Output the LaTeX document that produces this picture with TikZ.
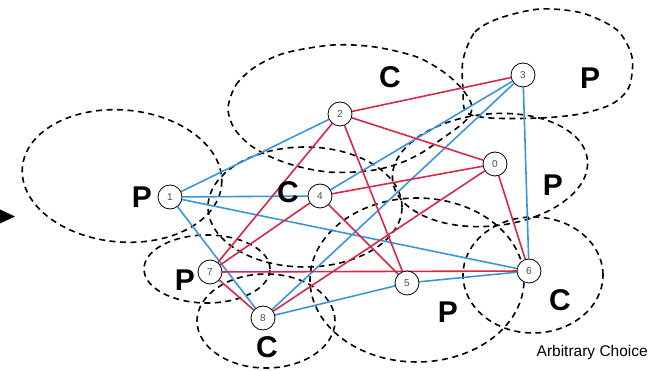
\documentclass[tikz,border=0pt]{standalone}
\usepackage{fontspec}
\setmainfont{Liberation Sans}
\definecolor{lineblue}{RGB}{58,150,220}
\definecolor{linered}{RGB}{214,40,72}
\pgfdeclarelayer{regions}
\pgfdeclarelayer{edges}
\pgfsetlayers{regions,edges,main}
\begin{document}
\begin{tikzpicture}[x=1pt,y=-1pt,
  nd/.style={circle,draw=black,line width=0.8pt,fill=white,minimum size=24pt,inner sep=0pt,font=\fontsize{10}{10}\selectfont\color{black!70}},
  bl/.style={draw=lineblue,line width=1.6pt},
  rd/.style={draw=linered,line width=1.6pt},
  region/.style={draw=black,line width=1.6pt,dash pattern=on 6pt off 4.5pt},
  lab/.style={font=\fontsize{30}{30}\selectfont\bfseries,inner sep=0pt},
  captxt/.style={font=\fontsize{15.5}{16}\selectfont,inner sep=0pt}]
\useasboundingbox (0,0) rectangle (651,371);
% nodes
\node[nd] (n1) at (170,197) {1};
\node[nd] (n2) at (340,114) {2};
\node[nd] (n3) at (523,75) {3};
\node[nd] (n0) at (495,164) {0};
\node[nd] (n4) at (320,196) {4};
\node[nd] (n7) at (210,272) {7};
\node[nd] (n8) at (263,318) {8};
\node[nd] (n5) at (407,283) {5};
\node[nd] (n6) at (529,271) {6};
% regions
\begin{pgfonlayer}{regions}
\draw[region, rotate around={-5:(122,176)}] (122,176) ellipse [x radius=100pt, y radius=66pt];
\draw[region] plot[smooth cycle] coordinates {(228,108) (236,85) (255,67) (285,53) (333,45) (375,47) (417,57) (445,73) (463,90) (472,106) (468,118) (457,128) (443,138) (423,152) (403,162) (380,169) (355,172) (328,172) (300,167) (273,158) (250,145) (234,128)};
\draw[region] plot[smooth cycle] coordinates {(463,60) (475,32) (500,18) (540,9) (582,13) (617,30) (632,57) (629,87) (612,104) (580,114) (540,118) (490,118) (466,112) (463,90)};
\draw[region, rotate around={6:(490,170)}] (490,170) ellipse [x radius=98pt, y radius=56pt];
\draw[region] (305,207) ellipse [x radius=97pt, y radius=60pt];
\draw[region] (207,269) ellipse [x radius=63pt, y radius=34pt];
\draw[region] (266,321) ellipse [x radius=69pt, y radius=47pt];
\draw[region] (417,280) ellipse [x radius=107pt, y radius=82pt];
\draw[region] (533,275) ellipse [x radius=70pt, y radius=58pt];
\end{pgfonlayer}
% edges
\begin{pgfonlayer}{edges}
\draw[bl] (n1) -- (n2);
\draw[bl] (n1) -- (n4);
\draw[bl] (n1) -- (n6);
\draw[bl] (n1) -- (n8);
\draw[bl] (n3) -- (n4);
\draw[bl] (n3) -- (n8);
\draw[bl] (n3) -- (n6);
\draw[bl] (n5) -- (n8);
\draw[bl] (n5) -- (n6);
\draw[rd] (n2) -- (n3);
\draw[rd] (n2) -- (n0);
\draw[rd] (n2) -- (n7);
\draw[rd] (n2) -- (n5);
\draw[rd] (n4) -- (n0);
\draw[rd] (n4) -- (n7);
\draw[rd] (n4) -- (n5);
\draw[rd] (n0) -- (n8);
\draw[rd] (n0) -- (n6);
\draw[rd] (n7) -- (n6);
\draw[rd] (n7) -- (n8);
\end{pgfonlayer}
% labels
\node[lab] (l1) at (142,197) {P};
\node[lab] (l2) at (390,77) {C};
\node[lab] (l3) at (590,78) {P};
\node[lab] (l0) at (553,185) {P};
\node[lab] (l4) at (288,192) {C};
\node[lab] (l7) at (185,280) {P};
\node[lab] (l8) at (267,347) {C};
\node[lab] (l5) at (448,312) {P};
\node[lab] (l6) at (560,300) {C};
\node[captxt, anchor=east] (ac) at (648,352) {Arbitrary Choice};
% arrow tip at left edge
\fill (0,209.5) -- (15,216.5) -- (0,223.5) -- cycle;
\end{tikzpicture}
\end{document}
